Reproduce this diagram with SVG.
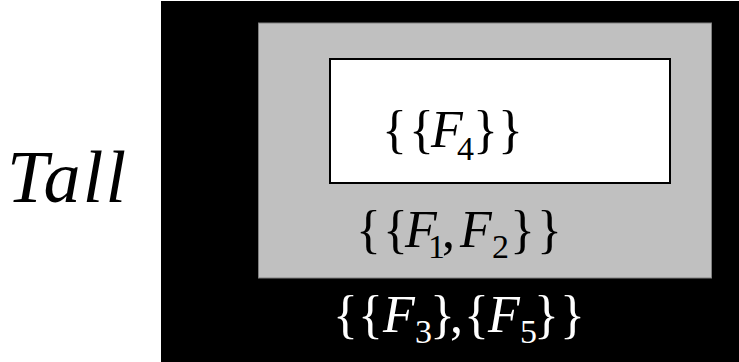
<svg xmlns="http://www.w3.org/2000/svg" width="739" height="362" viewBox="0 0 739 362">
<style>
text{font-family:'Liberation Serif','DejaVu Serif',serif}
.m{font-size:52px}
.t{font-size:74px;font-style:italic}
.i{font-style:italic}
.s{font-size:34px}
.w{fill:#fff}
.k{fill:#000}
</style>
<rect x="0" y="0" width="739" height="362" fill="#fff"/>
<g id="label-tall"><text class="t k" x="7" y="202" textLength="119" lengthAdjust="spacing">Tall</text></g>
<g id="outer"><rect x="161" y="1" width="578" height="361" fill="#000"/>
<text class="m w"><tspan x="333" y="332">{</tspan><tspan x="358" y="332">{</tspan><tspan class="i" x="383" y="332">F</tspan><tspan class="s" x="415" y="343">3</tspan><tspan x="430" y="332">}</tspan><tspan x="450" y="332">,</tspan><tspan x="464" y="332">{</tspan><tspan class="i" x="488" y="332">F</tspan><tspan class="s" x="520" y="343">5</tspan><tspan x="534" y="332">}</tspan><tspan x="560" y="332">}</tspan></text></g>
<g id="middle"><rect x="258.5" y="23" width="453" height="255" fill="#c0c0c0" stroke="#808080" stroke-width="1"/>
<text class="m k"><tspan x="356" y="247">{</tspan><tspan x="383" y="247">{</tspan><tspan class="i" x="405" y="247">F</tspan><tspan class="s" x="428" y="258">1</tspan><tspan x="442" y="247">,</tspan><tspan class="i" x="460" y="247">F</tspan><tspan class="s" x="492" y="258">2</tspan><tspan x="510" y="247">}</tspan><tspan x="537" y="247">}</tspan></text></g>
<g id="inner"><rect x="330" y="59" width="340" height="124" fill="#fff" stroke="#000" stroke-width="2"/>
<text class="m k"><tspan x="382" y="147">{</tspan><tspan x="409" y="147">{</tspan><tspan class="i" x="431" y="147">F</tspan><tspan class="s" x="457" y="160">4</tspan><tspan x="473" y="147">}</tspan><tspan x="498" y="147">}</tspan></text></g>
</svg>
